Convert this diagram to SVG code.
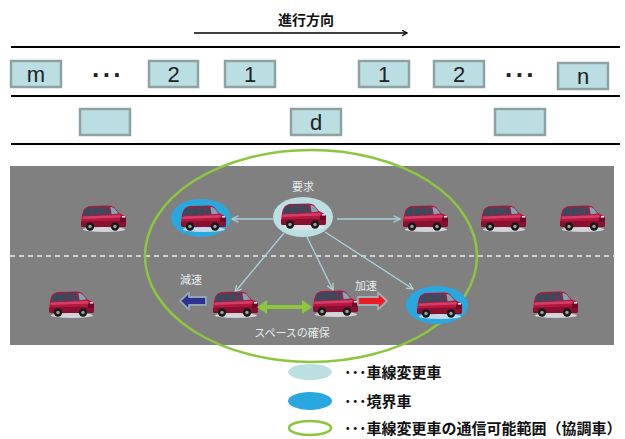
<svg xmlns="http://www.w3.org/2000/svg" xmlns:xlink="http://www.w3.org/1999/xlink" width="625" height="439" viewBox="0 0 625 439">
  <style>
    .lane { stroke: #000; stroke-width: 2; }
    .slot { fill: #BADEE1; stroke: #8EA2A3; stroke-width: 2.5; }
    .num { font-family: "Liberation Sans", Arial, sans-serif; font-size: 22px; fill: #222; text-anchor: middle; }
    .dots { font-family: "Liberation Sans", Arial, sans-serif; font-weight: bold; font-size: 26px; fill: #222; letter-spacing: 2px; }
    .jp { font-family: "Noto Sans CJK JP", "Noto Sans", sans-serif; }
    .road-label { font-family: "Noto Sans CJK JP", "Noto Sans", sans-serif; font-size: 11px; fill: #E6EEEE; }
    .legend { font-family: "Noto Sans CJK JP", "Noto Sans", sans-serif; font-size: 15px; font-weight: bold; fill: #111; }
    .comm { stroke: #A9D3D8; stroke-width: 1.3; fill: none; marker-end: url(#openHead); }
    .changer { fill: #BCDFE2; }
    .boundary { fill: #29A8E0; }
  </style>
  <defs>
    <marker id="openHead" viewBox="0 0 10 10" refX="9" refY="5" markerWidth="8" markerHeight="8" markerUnits="userSpaceOnUse" orient="auto">
      <path d="M1,1 L9,5 L1,9" fill="none" stroke="#A9D3D8" stroke-width="1.6"/>
    </marker>
    <marker id="blackHead" viewBox="0 0 10 10" refX="9" refY="5" markerWidth="7" markerHeight="7" markerUnits="userSpaceOnUse" orient="auto">
      <path d="M2,1 L9,5 L2,9" fill="none" stroke="#000" stroke-width="1.8"/>
    </marker>
    <!-- red minivan, facing right, 46 x 27 -->
    <g id="van">
      <ellipse cx="24" cy="24.5" rx="21" ry="2.4" fill="#E2E2EA" opacity="0.85"/>
      <path d="M1,18 L2,10 Q3,4 6,2.5 L9,1 L29,0.5 Q32,0.5 34,2 L39,8 L43,10 Q46,11.5 46,14 L46,20 Q46,22 44,22 L3,22 Q1,22 1,20 Z" fill="#B5173F"/>
      <path d="M2.5,11.5 L40,10 L41,12.5 L2.5,14 Z" fill="#D2406A"/>
      <path d="M4.5,5 L8.5,2.2 L28,1.6 L30.5,9.5 L3.8,10.8 Z" fill="#2E4F60"/>
      <path d="M30.5,1.9 Q33,2 35,4 L38.5,8.6 L31.6,9.3 Z" fill="#7FA6B6"/>
      <path d="M12,2 L11.5,10.5 M19,1.9 L19,10.2 M25,1.8 L25.6,9.9" stroke="#B5173F" stroke-width="1.2"/>
      <path d="M1,16.5 L46,15.5 L46,20 Q46,22 44,22 L3,22 Q1,22 1,20 Z" fill="#8A1030"/>
      <path d="M40,12.5 L46,12.5 L46,16.5 L40,17 Z" fill="#6A0C26"/>
      <rect x="42" y="11" width="3" height="1.6" fill="#F0D0D8"/>
      <circle cx="10" cy="21.5" r="4.2" fill="#1A1A1A"/>
      <circle cx="10" cy="21.5" r="1.7" fill="#A0A0A0"/>
      <circle cx="35" cy="21.5" r="4.2" fill="#1A1A1A"/>
      <circle cx="35" cy="21.5" r="1.7" fill="#A0A0A0"/>
    </g>
  </defs>

  <rect width="625" height="439" fill="#FFFFFF"/>

  <!-- direction of travel -->
  <g id="direction">
    <text class="jp" x="306" y="25" font-size="14" font-weight="bold" text-anchor="middle" fill="#111">進行方向</text>
    <line x1="194" y1="33" x2="407" y2="33" stroke="#000" stroke-width="1.6" marker-end="url(#blackHead)"/>
  </g>

  <!-- lane schematic -->
  <g id="lanes">
    <line class="lane" x1="11" y1="47" x2="620" y2="47"/>
    <line class="lane" x1="11" y1="96" x2="620" y2="96"/>
    <line class="lane" x1="11" y1="144" x2="620" y2="144"/>
  </g>

  <g id="slot-m"><rect class="slot" x="11" y="61" width="50" height="26"/><text class="num" x="36" y="82">m</text></g>
  <g id="dots-left"><text class="dots" x="92" y="84">···</text></g>
  <g id="slot-l2"><rect class="slot" x="149" y="61" width="49" height="26"/><text class="num" x="173.5" y="82">2</text></g>
  <g id="slot-l1"><rect class="slot" x="225" y="61" width="50" height="26"/><text class="num" x="250" y="82">1</text></g>
  <g id="slot-r1"><rect class="slot" x="359" y="61" width="50" height="26"/><text class="num" x="384" y="82">1</text></g>
  <g id="slot-r2"><rect class="slot" x="434" y="61" width="50" height="26"/><text class="num" x="459" y="82">2</text></g>
  <g id="dots-right"><text class="dots" x="505" y="84">···</text></g>
  <g id="slot-n"><rect class="slot" x="558" y="63" width="50" height="26"/><text class="num" x="583" y="84">n</text></g>

  <g id="gap-left"><rect class="slot" x="80" y="109" width="50" height="26"/></g>
  <g id="slot-d"><rect class="slot" x="291" y="109" width="50" height="26"/><text class="num" x="316" y="130">d</text></g>
  <g id="gap-right"><rect class="slot" x="495" y="109" width="50" height="26"/></g>

  <!-- road -->
  <g id="road">
    <rect x="10" y="166" width="604" height="179" fill="#808080"/>
    <line x1="10" y1="256" x2="614" y2="256" stroke="#E8E8E8" stroke-width="1.5" stroke-dasharray="5 4"/>
  </g>

  <!-- communication range -->
  <g id="range">
    <ellipse cx="311" cy="256" rx="166" ry="106" fill="none" stroke="#8CC63F" stroke-width="2.5"/>
  </g>

  <!-- highlight ellipses -->
  <g id="marks">
    <ellipse class="boundary" cx="201" cy="218" rx="30" ry="19"/>
    <ellipse class="changer" cx="303" cy="217" rx="30" ry="20"/>
    <ellipse class="boundary" cx="437" cy="305" rx="31" ry="19"/>
  </g>

  <g id="connectors">
    <line class="comm" x1="273" y1="219" x2="232" y2="219"/>
    <line class="comm" x1="337" y1="219" x2="400" y2="219"/>
    <line class="comm" x1="284" y1="233" x2="235" y2="292"/>
    <line class="comm" x1="306" y1="235" x2="333" y2="290"/>
    <line class="comm" x1="325" y1="232" x2="413" y2="289"/>
  </g>

  <!-- vehicles -->
  <g id="car-a"><use xlink:href="#van" x="80" y="205"/></g>
  <g id="car-b"><use xlink:href="#van" x="180" y="205"/></g>
  <g id="car-e"><use xlink:href="#van" x="280" y="203"/></g>
  <g id="car-f"><use xlink:href="#van" x="402" y="205"/></g>
  <g id="car-g"><use xlink:href="#van" x="480" y="205"/></g>
  <g id="car-h"><use xlink:href="#van" x="559" y="205"/></g>
  <g id="car-c"><use xlink:href="#van" x="48" y="291"/></g>
  <g id="car-d"><use xlink:href="#van" x="212" y="291"/></g>
  <g id="car-i"><use xlink:href="#van" x="312" y="290"/></g>
  <g id="car-j"><use xlink:href="#van" x="416" y="292"/></g>
  <g id="car-k"><use xlink:href="#van" x="532" y="291"/></g>

  <!-- speed change arrows -->
  <g id="decel">
    <path d="M180,301 L189,292.5 L189,297 L206,297 L206,305 L189,305 L189,309.5 Z" fill="#2E3192" stroke="#8FA6B4" stroke-width="1.8" stroke-linejoin="round"/>
    <text class="road-label" x="191" y="284" text-anchor="middle">減速</text>
  </g>
  <g id="accel">
    <path d="M387,301 L378,292.5 L378,297 L358,297 L358,305 L378,305 L378,309.5 Z" fill="#ED1C24" stroke="#9FB0B0" stroke-width="1.8" stroke-linejoin="round"/>
    <text class="road-label" x="366" y="290" text-anchor="middle">加速</text>
  </g>
  <g id="space">
    <rect x="264" y="305" width="41" height="4" fill="#8CC63F"/>
    <path d="M257,307 L267,300 L267,314 Z" fill="#8CC63F"/>
    <path d="M312,307 L302,300 L302,314 Z" fill="#8CC63F"/>
    <text class="road-label" x="292" y="337" text-anchor="middle" font-size="11.5">スペースの確保</text>
  </g>
  <g id="request">
    <text class="road-label" x="303" y="191" text-anchor="middle">要求</text>
  </g>

  <!-- legend -->
  <g id="legend-changer">
    <ellipse class="changer" cx="310" cy="372" rx="22" ry="8"/>
    <text class="legend" x="344" y="378">･･･車線変更車</text>
  </g>
  <g id="legend-boundary">
    <ellipse class="boundary" cx="310" cy="401" rx="22" ry="9"/>
    <text class="legend" x="344" y="407">･･･境界車</text>
  </g>
  <g id="legend-range">
    <ellipse cx="310" cy="428" rx="21" ry="7" fill="none" stroke="#8CC63F" stroke-width="2.5"/>
    <text class="legend" x="344" y="434">･･･車線変更車の通信可能範囲（協調車）</text>
  </g>
</svg>
